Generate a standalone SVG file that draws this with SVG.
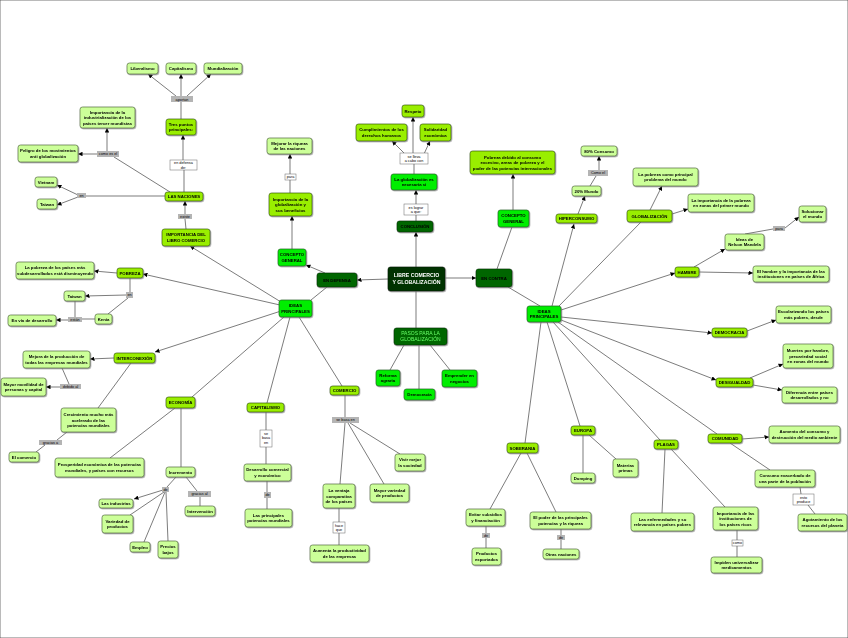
<svg xmlns="http://www.w3.org/2000/svg" width="848" height="638" viewBox="0 0 848 638">
<defs>
<style>
rect{stroke:#3a3a3a;stroke-width:.7}
.n{filter:url(#sh)}
.r rect{fill:#003300;stroke:#001a00}
.d rect{fill:#006600;stroke:#003300}
.b rect{fill:#00ee00;stroke:#1a5e1a}
.c rect{fill:#99ee00;stroke:#3a5a10}
.l rect{fill:#ccff99;stroke:#556b40}
.k rect{fill:#b4b4b4;stroke:none}
.w rect{fill:#ffffff;stroke:#666;stroke-width:.5}
text{font-family:"Liberation Sans",Arial,sans-serif;font-size:4.3px;font-weight:bold;text-anchor:middle;fill:#000}
.r text{font-size:5.2px;fill:#fff}
.p text{fill:#66ff66;font-size:5px;font-weight:normal}
.k text,.w text{font-size:3.8px;font-weight:normal}
#cx line{stroke:#444;stroke-width:.7}
#cx .a{marker-end:url(#ar)}
</style>
<filter id="sh" x="-10%" y="-10%" width="130%" height="140%"><feDropShadow dx="0.8" dy="0.9" stdDeviation="0.4" flood-color="#777" flood-opacity="0.7"/></filter>
<marker id="ar" viewBox="0 0 10 10" refX="10" refY="5" markerWidth="4.5" markerHeight="4.5" markerUnits="userSpaceOnUse" orient="auto"><path d="M0,0L10,5L0,10z" fill="#000"/></marker>
</defs>
<rect x="0" y="0" width="848" height="638" fill="#fff" stroke="none"/>
<g id="cx">
<line x1="388" y1="279" x2="357" y2="280" class="a"/>
<line x1="445" y1="278" x2="476" y2="278" class="a"/>
<line x1="416" y1="267" x2="416" y2="232" class="a"/>
<line x1="416" y1="291" x2="416" y2="328"/>
<line x1="416" y1="221" x2="416" y2="215"/>
<line x1="416" y1="204" x2="416" y2="190" class="a"/>
<line x1="414" y1="174" x2="414" y2="164"/>
<line x1="413" y1="153" x2="413" y2="117" class="a"/>
<line x1="405" y1="154" x2="392" y2="141" class="a"/>
<line x1="424" y1="154" x2="430" y2="141" class="a"/>
<line x1="325" y1="273" x2="306" y2="265" class="a"/>
<line x1="327" y1="287" x2="311" y2="300"/>
<line x1="292" y1="249" x2="292" y2="216" class="a"/>
<line x1="290" y1="193" x2="290" y2="180"/>
<line x1="290" y1="174" x2="290" y2="154" class="a"/>
<line x1="281" y1="302" x2="190" y2="246" class="a"/>
<line x1="280" y1="305" x2="143" y2="274" class="a"/>
<line x1="281" y1="311" x2="155" y2="352" class="a"/>
<line x1="284" y1="317" x2="192" y2="397"/>
<line x1="290" y1="317" x2="267" y2="403"/>
<line x1="299" y1="317" x2="342" y2="386"/>
<line x1="186" y1="229" x2="185" y2="219"/>
<line x1="185" y1="214" x2="185" y2="201" class="a"/>
<line x1="184" y1="192" x2="184" y2="170"/>
<line x1="183" y1="160" x2="183" y2="135" class="a"/>
<line x1="181" y1="119" x2="181" y2="102"/>
<line x1="176" y1="96" x2="148" y2="74" class="a"/>
<line x1="181" y1="96" x2="181" y2="74" class="a"/>
<line x1="187" y1="96" x2="211" y2="74" class="a"/>
<line x1="170" y1="192" x2="114" y2="157"/>
<line x1="107" y1="151" x2="107" y2="128" class="a"/>
<line x1="97" y1="154" x2="78" y2="154" class="a"/>
<line x1="165" y1="196" x2="86" y2="196"/>
<line x1="78" y1="195" x2="57" y2="185" class="a"/>
<line x1="78" y1="197" x2="57" y2="205" class="a"/>
<line x1="117" y1="273" x2="94" y2="271" class="a"/>
<line x1="130" y1="278" x2="130" y2="292"/>
<line x1="126" y1="295" x2="85" y2="296" class="a"/>
<line x1="128" y1="298" x2="108" y2="314"/>
<line x1="75" y1="301" x2="75" y2="317"/>
<line x1="95" y1="319" x2="82" y2="319"/>
<line x1="68" y1="320" x2="56" y2="320" class="a"/>
<line x1="114" y1="358" x2="90" y2="359" class="a"/>
<line x1="62" y1="368" x2="69" y2="384"/>
<line x1="60" y1="387" x2="46" y2="387" class="a"/>
<line x1="131" y1="363" x2="98" y2="408"/>
<line x1="67" y1="432" x2="57" y2="440"/>
<line x1="45" y1="445" x2="36" y2="452"/>
<line x1="175" y1="408" x2="110" y2="458"/>
<line x1="181" y1="408" x2="181" y2="467"/>
<line x1="176" y1="477" x2="167" y2="487"/>
<line x1="163" y1="490" x2="134" y2="499" class="a"/>
<line x1="164" y1="492" x2="130" y2="515"/>
<line x1="165" y1="492" x2="144" y2="542"/>
<line x1="166" y1="492" x2="168" y2="541"/>
<line x1="186" y1="477" x2="197" y2="491"/>
<line x1="200" y1="497" x2="200" y2="506"/>
<line x1="266" y1="412" x2="266" y2="430"/>
<line x1="266" y1="447" x2="266" y2="464"/>
<line x1="267" y1="481" x2="267" y2="492"/>
<line x1="267" y1="498" x2="267" y2="509"/>
<line x1="345" y1="395" x2="345" y2="417"/>
<line x1="350" y1="423" x2="400" y2="454"/>
<line x1="348" y1="423" x2="384" y2="484"/>
<line x1="345" y1="423" x2="340" y2="484"/>
<line x1="339" y1="508" x2="339" y2="522"/>
<line x1="339" y1="533" x2="339" y2="545"/>
<line x1="404" y1="345" x2="390" y2="370"/>
<line x1="419" y1="345" x2="419" y2="389"/>
<line x1="430" y1="345" x2="450" y2="370"/>
<line x1="497" y1="269" x2="512" y2="227"/>
<line x1="513" y1="210" x2="513" y2="174" class="a"/>
<line x1="508" y1="287" x2="540" y2="306"/>
<line x1="552" y1="306" x2="574" y2="224" class="a"/>
<line x1="559" y1="306" x2="641" y2="222"/>
<line x1="561" y1="310" x2="675" y2="273" class="a"/>
<line x1="561" y1="317" x2="712" y2="333" class="a"/>
<line x1="561" y1="320" x2="716" y2="380" class="a"/>
<line x1="558" y1="322" x2="717" y2="434"/>
<line x1="553" y1="322" x2="660" y2="440"/>
<line x1="547" y1="322" x2="580" y2="426"/>
<line x1="541" y1="322" x2="525" y2="443"/>
<line x1="578" y1="214" x2="585" y2="196" class="a"/>
<line x1="590" y1="186" x2="596" y2="176"/>
<line x1="599" y1="170" x2="599" y2="156" class="a"/>
<line x1="650" y1="210" x2="662" y2="186" class="a"/>
<line x1="672" y1="214" x2="688" y2="209" class="a"/>
<line x1="694" y1="267" x2="725" y2="249" class="a"/>
<line x1="699" y1="272" x2="753" y2="273" class="a"/>
<line x1="745" y1="234" x2="773" y2="229"/>
<line x1="785" y1="228" x2="799" y2="217" class="a"/>
<line x1="747" y1="331" x2="776" y2="320" class="a"/>
<line x1="750" y1="378" x2="783" y2="364" class="a"/>
<line x1="753" y1="385" x2="782" y2="390" class="a"/>
<line x1="742" y1="439" x2="769" y2="437" class="a"/>
<line x1="730" y1="443" x2="770" y2="470"/>
<line x1="800" y1="487" x2="801" y2="494"/>
<line x1="808" y1="505" x2="815" y2="514"/>
<line x1="665" y1="449" x2="662" y2="513"/>
<line x1="671" y1="449" x2="725" y2="507"/>
<line x1="737" y1="530" x2="737" y2="540"/>
<line x1="737" y1="546" x2="737" y2="557"/>
<line x1="583" y1="435" x2="583" y2="473"/>
<line x1="589" y1="435" x2="616" y2="459"/>
<line x1="521" y1="453" x2="490" y2="509"/>
<line x1="527" y1="453" x2="556" y2="512"/>
<line x1="486" y1="526" x2="486" y2="533"/>
<line x1="486" y1="538" x2="486" y2="548"/>
<line x1="561" y1="529" x2="561" y2="535"/>
<line x1="561" y1="540" x2="561" y2="549"/>
</g>

<g id="n1" class="n l"><rect x="127" y="63" width="31" height="11" rx="2.5"/><text x="142.5" y="70">Liberalismo</text></g>
<g id="n2" class="n l"><rect x="166" y="63" width="30" height="11" rx="2.5"/><text x="181" y="70">Capitalismo</text></g>
<g id="n3" class="n l"><rect x="204" y="63" width="38" height="11" rx="2.5"/><text x="223" y="70">Mundialización</text></g>
<g id="k1" class="k"><rect x="171" y="96" width="22" height="6"/><text x="182" y="100.5">aportan</text></g>
<g id="n4" class="n c"><rect x="166" y="119" width="30" height="16" rx="2.5"/><text x="181" y="125.8">Tres puntos<tspan x="181" dy="5.5">principales:</tspan></text></g>
<g id="k2" class="w"><rect x="170" y="160" width="27" height="10"/><text x="183.5" y="164.3">en defensa<tspan x="183.5" dy="4.5">de:</tspan></text></g>
<g id="n5" class="n c"><rect x="165" y="192" width="38" height="9" rx="2.5"/><text x="184" y="198">LAS NACIONES</text></g>
<g id="k3" class="k"><rect x="178" y="214" width="14" height="5"/><text x="185" y="217.8">existe</text></g>
<g id="n6" class="n c"><rect x="162" y="229" width="48" height="17" rx="2.5"/><text x="186" y="236.3">IMPORTANCIA DEL<tspan x="186" dy="5.5">LIBRO COMERCIO</tspan></text></g>
<g id="n7" class="n l"><rect x="80" y="107" width="55" height="21" rx="2.5"/><text x="107.5" y="113.5">Importancia de la<tspan x="107.5" dy="5.5">industrialización de los</tspan><tspan x="107.5" dy="5.5">países tercer mundistas</tspan></text></g>
<g id="k4" class="k"><rect x="97" y="151" width="22" height="6"/><text x="108" y="155.3">como es el</text></g>
<g id="n8" class="n l"><rect x="18" y="145" width="60" height="17" rx="2.5"/><text x="48" y="152.3">Peligro de los movimientos<tspan x="48" dy="5.5">anti globalización</tspan></text></g>
<g id="k5" class="k"><rect x="77" y="193" width="9" height="5"/><text x="81.5" y="196.8">en</text></g>
<g id="n9" class="n l"><rect x="35" y="177" width="22" height="10" rx="2.5"/><text x="46" y="183.5">Vietnam</text></g>
<g id="n10" class="n l"><rect x="37" y="199" width="20" height="10" rx="2.5"/><text x="47" y="205.5">Taiwan</text></g>

<g id="n11" class="n l"><rect x="267" y="138" width="45" height="16" rx="2.5"/><text x="289.5" y="144.8">Mejorar la riqueza<tspan x="289.5" dy="5.5">de las naciones</tspan></text></g>
<g id="k6" class="w"><rect x="285" y="174" width="11" height="6"/><text x="290.5" y="178.3">para</text></g>
<g id="n12" class="n c"><rect x="269" y="193" width="43" height="23" rx="2.5"/><text x="290.5" y="200.5">Importancia de la<tspan x="290.5" dy="5.5">globalización y</tspan><tspan x="290.5" dy="5.5">sus beneficios</tspan></text></g>
<g id="n13" class="n b"><rect x="278" y="249" width="28" height="17" rx="2.5"/><text x="292" y="256.3">CONCEPTO<tspan x="292" dy="5.5">GENERAL</tspan></text></g>
<g id="n14" class="n d"><rect x="317" y="273" width="40" height="14" rx="2.5"/><text x="337" y="281.5">EN DEFENSA</text></g>
<g id="n15" class="n b"><rect x="279" y="300" width="33" height="17" rx="2.5"/><text x="295.5" y="307.3">IDEAS<tspan x="295.5" dy="5.5">PRINCIPALES</tspan></text></g>
<g id="n16" class="n r"><rect x="388" y="267" width="57" height="24" rx="2.5"/><text x="416.5" y="277.2">LIBRE COMERCIO<tspan x="416.5" dy="6.4">Y GLOBALIZACIÓN</tspan></text></g>
<g id="n17" class="n d"><rect x="397" y="221" width="36" height="11" rx="2.5"/><text x="415" y="228">CONCLUSIÓN</text></g>
<g id="k7" class="w"><rect x="404" y="204" width="24" height="11"/><text x="416" y="208.5">es lograr<tspan x="416" dy="4.5">a que:</tspan></text></g>
<g id="n18" class="n b"><rect x="391" y="174" width="46" height="16" rx="2.5"/><text x="414" y="180.8">La globalización es<tspan x="414" dy="5.5">necesaria si</tspan></text></g>
<g id="k8" class="w"><rect x="400" y="153" width="28" height="11"/><text x="414" y="157.5">se lleva<tspan x="414" dy="4.5">a cabo con</tspan></text></g>
<g id="n19" class="n c"><rect x="402" y="105" width="22" height="12" rx="2.5"/><text x="413" y="112.5">Respeto</text></g>
<g id="n20" class="n c"><rect x="356" y="124" width="51" height="17" rx="2.5"/><text x="381.5" y="131.3">Cumplimientos de los<tspan x="381.5" dy="5.5">derechos humanos</tspan></text></g>
<g id="n21" class="n c"><rect x="420" y="124" width="31" height="17" rx="2.5"/><text x="435.5" y="131.3">Solidaridad<tspan x="435.5" dy="5.5">económica</tspan></text></g>
<g id="n22" class="n d p"><rect x="394" y="328" width="53" height="17" rx="2.5"/><text x="420.5" y="335">PASOS PARA LA<tspan x="420.5" dy="6">GLOBALIZACIÓN</tspan></text></g>
<g id="n23" class="n b"><rect x="376" y="370" width="24" height="16" rx="2.5"/><text x="388" y="376.8">Reforma<tspan x="388" dy="5.5">agraria</tspan></text></g>
<g id="n24" class="n b"><rect x="404" y="389" width="31" height="11" rx="2.5"/><text x="419.5" y="396">Democracia</text></g>
<g id="n25" class="n b"><rect x="442" y="370" width="35" height="17" rx="2.5"/><text x="459.5" y="377.3">Emprender en<tspan x="459.5" dy="5.5">negocios</tspan></text></g>

<g id="n26" class="n d"><rect x="476" y="269" width="36" height="18" rx="2.5"/><text x="494" y="279.5">EN CONTRA</text></g>
<g id="n27" class="n b"><rect x="527" y="306" width="34" height="16" rx="2.5"/><text x="544" y="312.8">IDEAS<tspan x="544" dy="5.5">PRINCIPALES</tspan></text></g>
<g id="n28" class="n b"><rect x="498" y="210" width="31" height="17" rx="2.5"/><text x="513.5" y="217.3">CONCEPTO<tspan x="513.5" dy="5.5">GENERAL</tspan></text></g>
<g id="n29" class="n c"><rect x="470" y="151" width="85" height="23" rx="2.5"/><text x="512.5" y="158.5">Pobreza debido al consumo<tspan x="512.5" dy="5.5">excesivo, areas de pobreza y el</tspan><tspan x="512.5" dy="5.5">poder de las potencias internacionales</tspan></text></g>
<g id="n30" class="n c"><rect x="556" y="214" width="41" height="9" rx="2.5"/><text x="576.5" y="220">HIPERCONSUMO</text></g>
<g id="n31" class="n l"><rect x="572" y="186" width="29" height="10" rx="2.5"/><text x="586.5" y="192.5">20% Mundo</text></g>
<g id="k9" class="k"><rect x="588" y="170" width="20" height="6"/><text x="598" y="174.3">Como el</text></g>
<g id="n32" class="n l"><rect x="581" y="146" width="36" height="10" rx="2.5"/><text x="599" y="152.5">80% Consumo</text></g>
<g id="n33" class="n c"><rect x="627" y="210" width="45" height="12" rx="2.5"/><text x="649.5" y="217.5">GLOBALIZACIÓN</text></g>
<g id="n34" class="n l"><rect x="633" y="168" width="65" height="18" rx="2.5"/><text x="665.5" y="175.8">La pobreza como principal<tspan x="665.5" dy="5.5">problema del mundo</tspan></text></g>
<g id="n35" class="n l"><rect x="688" y="194" width="66" height="18" rx="2.5"/><text x="721" y="201.8">La importancia de la pobreza<tspan x="721" dy="5.5">en zonas del primer mundo</tspan></text></g>
<g id="n36" class="n l"><rect x="725" y="234" width="39" height="16" rx="2.5"/><text x="744.5" y="240.8">Ideas de<tspan x="744.5" dy="5.5">Nelson Mandela</tspan></text></g>
<g id="k10" class="k"><rect x="773" y="226" width="12" height="5"/><text x="779" y="229.8">para</text></g>
<g id="n37" class="n l"><rect x="799" y="206" width="27" height="16" rx="2.5"/><text x="812.5" y="212.8">Solucionar<tspan x="812.5" dy="5.5">el mundo</tspan></text></g>
<g id="n38" class="n c"><rect x="675" y="267" width="24" height="10" rx="2.5"/><text x="687" y="273.5">HAMBRE</text></g>
<g id="n39" class="n l"><rect x="753" y="266" width="76" height="16" rx="2.5"/><text x="791" y="272.8">El hambre y la importancia de las<tspan x="791" dy="5.5">instituciones en países de África</tspan></text></g>
<g id="n40" class="n c"><rect x="712" y="328" width="35" height="9" rx="2.5"/><text x="729.5" y="334">DEMOCRACIA</text></g>
<g id="n41" class="n l"><rect x="776" y="306" width="55" height="17" rx="2.5"/><text x="803.5" y="313.3">Escolarizando los países<tspan x="803.5" dy="5.5">más pobres, desde</tspan></text></g>
<g id="n42" class="n c"><rect x="716" y="378" width="37" height="9" rx="2.5"/><text x="734.5" y="384">DESIGUALDAD</text></g>
<g id="n43" class="n l"><rect x="783" y="344" width="50" height="24" rx="2.5"/><text x="808" y="352">Muertes por hambre,<tspan x="808" dy="5.5">precariedad social</tspan><tspan x="808" dy="5.5">en zonas del mundo</tspan></text></g>
<g id="n44" class="n l"><rect x="782" y="387" width="55" height="16" rx="2.5"/><text x="809.5" y="393.8">Diferencia entre países<tspan x="809.5" dy="5.5">desarrollados y no</tspan></text></g>
<g id="n45" class="n c"><rect x="708" y="434" width="34" height="9" rx="2.5"/><text x="725" y="440">COMUNIDAD</text></g>
<g id="n46" class="n l"><rect x="769" y="426" width="71" height="17" rx="2.5"/><text x="804.5" y="433.3">Aumento del consumo y<tspan x="804.5" dy="5.5">destrucción del medio ambiente</tspan></text></g>
<g id="n47" class="n l"><rect x="755" y="470" width="60" height="17" rx="2.5"/><text x="785" y="477.3">Consumo exacerbado de<tspan x="785" dy="5.5">una parte de la población</tspan></text></g>
<g id="k11" class="w"><rect x="793" y="494" width="21" height="11"/><text x="803.5" y="498.5">esto<tspan x="803.5" dy="4.5">produce</tspan></text></g>
<g id="n48" class="n l"><rect x="798" y="514" width="49" height="17" rx="2.5"/><text x="822.5" y="521.3">Agotamiento de los<tspan x="822.5" dy="5.5">recursos del planeta</tspan></text></g>
<g id="n49" class="n c"><rect x="654" y="440" width="24" height="9" rx="2.5"/><text x="666" y="446">PLAGAS</text></g>
<g id="n50" class="n l"><rect x="631" y="513" width="63" height="18" rx="2.5"/><text x="662.5" y="520.8">Las enfermedades y su<tspan x="662.5" dy="5.5">relevancia en países pobres</tspan></text></g>
<g id="n51" class="n l"><rect x="713" y="507" width="45" height="23" rx="2.5"/><text x="735.5" y="514.5">Importancia de las<tspan x="735.5" dy="5.5">instituciones de</tspan><tspan x="735.5" dy="5.5">los países ricos</tspan></text></g>
<g id="k12" class="w"><rect x="732" y="540" width="11" height="6"/><text x="737.5" y="544.3">como</text></g>
<g id="n52" class="n l"><rect x="711" y="557" width="51" height="16" rx="2.5"/><text x="736.5" y="563.8">Impiden universalizar<tspan x="736.5" dy="5.5">medicamentos</tspan></text></g>
<g id="n53" class="n c"><rect x="571" y="426" width="24" height="9" rx="2.5"/><text x="583" y="432">EUROPA</text></g>
<g id="n54" class="n l"><rect x="571" y="473" width="24" height="10" rx="2.5"/><text x="583" y="479.5">Dumping</text></g>
<g id="n55" class="n l"><rect x="613" y="459" width="25" height="18" rx="2.5"/><text x="625.5" y="466.8">Materias<tspan x="625.5" dy="5.5">primas</tspan></text></g>
<g id="n56" class="n c"><rect x="507" y="443" width="31" height="10" rx="2.5"/><text x="522.5" y="449.5">SOBERANIA</text></g>
<g id="n57" class="n l"><rect x="466" y="509" width="39" height="17" rx="2.5"/><text x="485.5" y="516.3">Evitar subsidios<tspan x="485.5" dy="5.5">y financiación</tspan></text></g>
<g id="k13" class="k"><rect x="482" y="533" width="8" height="5"/><text x="486" y="536.8">de</text></g>
<g id="n58" class="n l"><rect x="472" y="548" width="29" height="17" rx="2.5"/><text x="486.5" y="555.3">Productos<tspan x="486.5" dy="5.5">exportados</tspan></text></g>
<g id="n59" class="n l"><rect x="530" y="512" width="61" height="17" rx="2.5"/><text x="560.5" y="519.3">El poder de las principales<tspan x="560.5" dy="5.5">potencias y la riqueza</tspan></text></g>
<g id="k14" class="k"><rect x="557" y="535" width="8" height="5"/><text x="561" y="538.8">de</text></g>
<g id="n60" class="n l"><rect x="543" y="549" width="36" height="10" rx="2.5"/><text x="561" y="555.5">Otras naciones</text></g>

<g id="n61" class="n c"><rect x="117" y="268" width="26" height="10" rx="2.5"/><text x="130" y="274.5">POBREZA</text></g>
<g id="n62" class="n l"><rect x="16" y="262" width="78" height="17" rx="2.5"/><text x="55" y="269.3">La pobreza de los países más<tspan x="55" dy="5.5">subdesarrollados está disminuyendo</tspan></text></g>
<g id="k15" class="k"><rect x="126" y="292" width="7" height="6"/><text x="129.5" y="296.3">en</text></g>
<g id="n63" class="n l"><rect x="64" y="291" width="21" height="10" rx="2.5"/><text x="74.5" y="297.5">Taiwan</text></g>
<g id="n64" class="n l"><rect x="95" y="314" width="17" height="10" rx="2.5"/><text x="103.5" y="320.5">Kenia</text></g>
<g id="k16" class="k"><rect x="68" y="317" width="14" height="5"/><text x="75" y="320.8">están</text></g>
<g id="n65" class="n l"><rect x="8" y="315" width="48" height="11" rx="2.5"/><text x="32" y="322">En vía de desarrollo</text></g>
<g id="n66" class="n c"><rect x="114" y="353" width="41" height="10" rx="2.5"/><text x="134.5" y="359.5">INTERCONEXIÓN</text></g>
<g id="n67" class="n l"><rect x="23" y="351" width="67" height="17" rx="2.5"/><text x="56.5" y="358.3">Mejora de la producción de<tspan x="56.5" dy="5.5">todas las empresas mundiales</tspan></text></g>
<g id="k17" class="k"><rect x="60" y="384" width="21" height="5"/><text x="70.5" y="387.8">debido al</text></g>
<g id="n68" class="n l"><rect x="1" y="378" width="45" height="18" rx="2.5"/><text x="23.5" y="385.8">Mayor movilidad de<tspan x="23.5" dy="5.5">personas y capital</tspan></text></g>
<g id="n69" class="n c"><rect x="166" y="397" width="29" height="11" rx="2.5"/><text x="180.5" y="404">ECONOMÍA</text></g>
<g id="n70" class="n l"><rect x="61" y="408" width="55" height="24" rx="2.5"/><text x="88.5" y="416">Crecimiento mucho más<tspan x="88.5" dy="5.5">acelerado de las</tspan><tspan x="88.5" dy="5.5">potencias mundiales</tspan></text></g>
<g id="k18" class="k"><rect x="39" y="440" width="23" height="5"/><text x="50.5" y="443.8">gracias a</text></g>
<g id="n71" class="n l"><rect x="9" y="452" width="30" height="10" rx="2.5"/><text x="24" y="458.5">El comercio</text></g>
<g id="n72" class="n l"><rect x="55" y="458" width="89" height="19" rx="2.5"/><text x="99.5" y="466.3">Prosperidad económica de las potencias<tspan x="99.5" dy="5.5">mundiales, y países con recursos</tspan></text></g>
<g id="n73" class="n l"><rect x="166" y="467" width="29" height="10" rx="2.5"/><text x="180.5" y="473.5">Incremento</text></g>
<g id="k19" class="k"><rect x="162" y="487" width="7" height="5"/><text x="165.5" y="490.8">de</text></g>
<g id="k20" class="k"><rect x="188" y="491" width="23" height="6"/><text x="199.5" y="495.3">gracias al</text></g>
<g id="n74" class="n l"><rect x="185" y="506" width="30" height="10" rx="2.5"/><text x="200" y="512.5">Intervención</text></g>
<g id="n75" class="n l"><rect x="99" y="499" width="34" height="9" rx="2.5"/><text x="116" y="505">Las industrias</text></g>
<g id="n76" class="n l"><rect x="102" y="515" width="31" height="18" rx="2.5"/><text x="117.5" y="522.8">Variedad de<tspan x="117.5" dy="5.5">productos</tspan></text></g>
<g id="n77" class="n l"><rect x="130" y="542" width="20" height="10" rx="2.5"/><text x="140" y="548.5">Empleo</text></g>
<g id="n78" class="n l"><rect x="158" y="541" width="20" height="17" rx="2.5"/><text x="168" y="548.3">Precios<tspan x="168" dy="5.5">bajos</tspan></text></g>
<g id="n79" class="n c"><rect x="247" y="403" width="37" height="9" rx="2.5"/><text x="265.5" y="409">CAPITALISMO</text></g>
<g id="k21" class="w"><rect x="260" y="430" width="12" height="17"/><text x="266" y="434.5">se<tspan x="266" dy="4.5">basa</tspan><tspan x="266" dy="4.5">en</tspan></text></g>
<g id="n80" class="n l"><rect x="244" y="464" width="47" height="17" rx="2.5"/><text x="267.5" y="471.3">Desarrollo comercial<tspan x="267.5" dy="5.5">y económico</tspan></text></g>
<g id="k22" class="k"><rect x="264" y="492" width="7" height="6"/><text x="267.5" y="496.3">de</text></g>
<g id="n81" class="n l"><rect x="245" y="509" width="47" height="18" rx="2.5"/><text x="268.5" y="516.8">Las principales<tspan x="268.5" dy="5.5">potencias mundiales</tspan></text></g>
<g id="n82" class="n c"><rect x="330" y="386" width="29" height="9" rx="2.5"/><text x="344.5" y="392">COMERCIO</text></g>
<g id="k23" class="k"><rect x="332" y="417" width="27" height="6"/><text x="345.5" y="421.3">se basa en</text></g>
<g id="n83" class="n l"><rect x="395" y="454" width="30" height="17" rx="2.5"/><text x="410" y="461.3">Vivir mejor<tspan x="410" dy="5.5">la sociedad</tspan></text></g>
<g id="n84" class="n l"><rect x="370" y="484" width="39" height="18" rx="2.5"/><text x="389.5" y="491.8">Mayor variedad<tspan x="389.5" dy="5.5">de productos</tspan></text></g>
<g id="n85" class="n l"><rect x="323" y="484" width="32" height="24" rx="2.5"/><text x="339" y="492">La ventaja<tspan x="339" dy="5.5">comparativa</tspan><tspan x="339" dy="5.5">de los países</tspan></text></g>
<g id="k24" class="w"><rect x="333" y="522" width="12" height="11"/><text x="339" y="526.5">hace<tspan x="339" dy="4.5">que</tspan></text></g>
<g id="n86" class="n l"><rect x="310" y="545" width="59" height="17" rx="2.5"/><text x="339.5" y="552.3">Aumenta la productividad<tspan x="339.5" dy="5.5">de las empresas</tspan></text></g>
</svg>
